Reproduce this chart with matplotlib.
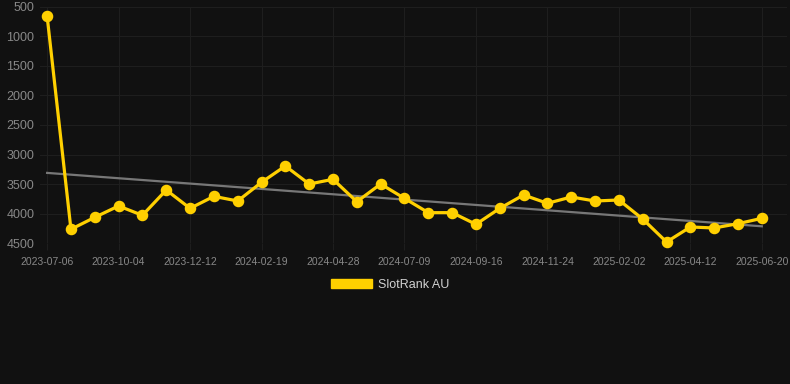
import matplotlib

matplotlib.use("Agg")
import matplotlib.pyplot as plt
import numpy as np
from matplotlib.patches import Patch

plt.rcParams["font.family"] = ["Liberation Sans", "DejaVu Sans"]

# SlotRank AU rank over time (lower is better, axis reversed)
dates = [
    "2023-07-06", "", "", "2023-10-04", "", "", "2023-12-12", "", "",
    "2024-02-19", "", "", "2024-04-28", "", "", "2024-07-09", "", "",
    "2024-09-16", "", "", "2024-11-24", "", "", "2025-02-02", "", "",
    "2025-04-12", "", "", "2025-06-20",
]
ranks = [
    660, 4263, 4061, 3869, 4027, 3599, 3909, 3706, 3785, 3469, 3193,
    3498, 3418, 3797, 3498, 3740, 3982, 3982, 4179, 3909, 3683, 3824,
    3717, 3785, 3768, 4089, 4478, 4224, 4241, 4168, 4078,
]
y_ticks = [500, 1000, 1500, 2000, 2500, 3000, 3500, 4000, 4500]

bg = "#111111"
gold = "#ffd000"

fig = plt.figure(figsize=(7.9, 3.84), dpi=100, facecolor=bg)
ax = fig.add_axes([0.0506, 0.3664, 0.9454, 0.6162])
ax.set_facecolor(bg)

x = np.arange(len(ranks))

# trend line from a linear fit of the ranks
coef = np.polyfit(x, ranks, 1)
ax.plot(x, np.polyval(coef, x), color="#777777", linewidth=1.6, zorder=2)

ax.plot(x, ranks, color=gold, linewidth=2.3, marker="o", markersize=7.3,
        markerfacecolor=gold, markeredgecolor=gold, zorder=3, clip_on=False)

ax.set_ylim(4500, 500)
ax.set_yticks(y_ticks)
ax.set_yticklabels([str(v) for v in y_ticks])
ax.set_xlim(-0.3, 31.05)
tick_pos = [i for i, d in enumerate(dates) if d]
ax.set_xticks(tick_pos)
ax.set_xticklabels([dates[i] for i in tick_pos])

ax.grid(True, color="#1e1e1e", linewidth=0.8)
ax.set_axisbelow(True)
for s in ax.spines.values():
    s.set_visible(False)
ax.tick_params(axis="y", colors="#1e1e1e", labelcolor="#888888",
               labelsize=9, length=0, pad=4)
ax.tick_params(axis="x", colors="#1e1e1e", labelcolor="#888888",
               labelsize=7.5, length=5, pad=5)

fig.legend(handles=[Patch(facecolor=gold, edgecolor=gold, label="SlotRank AU")],
           loc="center", bbox_to_anchor=(0.494, 0.258), frameon=False,
           fontsize=9, labelcolor="#d0d0d0", handlelength=3.3,
           handleheight=0.8, handletextpad=0.5)

fig.savefig("out.png", dpi=100, facecolor=bg)
